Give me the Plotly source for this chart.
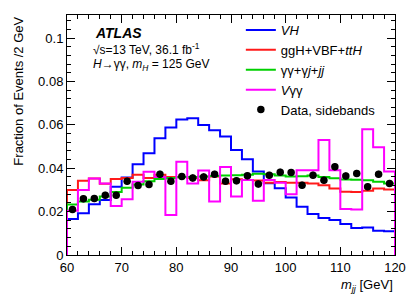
import plotly.graph_objects as go

# bin edges: 2 GeV bins from 60 to 120
edges = list(range(60, 121, 2))
centers = [e + 1 for e in edges[:-1]]

vh = [0.0166, 0.0192, 0.0234, 0.0253, 0.0314, 0.0357, 0.0418, 0.0469, 0.0538, 0.0587,
      0.0625, 0.0630, 0.0599, 0.0575, 0.0546, 0.0484, 0.0441, 0.0385, 0.0331, 0.0308,
      0.0265, 0.0222, 0.0189, 0.0170, 0.0161, 0.0143, 0.0124, 0.0127, 0.0112, 0.0109]
ggh = [0.0300, 0.0342, 0.0352, 0.0328, 0.0350, 0.0355, 0.0370, 0.0355, 0.0370, 0.0360,
       0.0360, 0.0355, 0.0345, 0.0362, 0.0330, 0.0349, 0.0346, 0.0343, 0.0333, 0.0336,
       0.0333, 0.0333, 0.0330, 0.0322, 0.0307, 0.0292, 0.0290, 0.0296, 0.0307, 0.0302]
gg_bkg = [0.0233, 0.0246, 0.0255, 0.0270, 0.0290, 0.0310, 0.0325, 0.0340, 0.0350, 0.0355,
          0.0360, 0.0360, 0.0362, 0.0364, 0.0366, 0.0368, 0.0370, 0.0374, 0.0372, 0.0366,
          0.0362, 0.0363, 0.0366, 0.0360, 0.0354, 0.0348, 0.0347, 0.0345, 0.0338, 0.0330]
vgg = [0.0204, 0.0300, 0.0353, 0.0330, 0.0226, 0.0257, 0.0338, 0.0384, 0.0360, 0.0184,
       0.0430, 0.0330, 0.0389, 0.0246, 0.0405, 0.0270, 0.0346, 0.0250, 0.0346, 0.0333,
       0.0280, 0.0390, 0.0390, 0.0530, 0.0390, 0.0212, 0.0210, 0.0580, 0.0497, 0.0385]
data = [0.0210, 0.0259, 0.0260, 0.0275, 0.0275, 0.0340, 0.0320, 0.0325, 0.0372, 0.0340,
        0.0362, 0.0355, 0.0360, 0.0372, 0.0340, 0.0342, 0.0365, 0.0327, 0.0367, 0.0381,
        0.0380, 0.0322, 0.0368, 0.0345, 0.0407, 0.0364, 0.0376, 0.0315, 0.0372, 0.0330]
data_err = [0.0016] * 30

y_ticks = [0, 0.02, 0.04, 0.06, 0.08, 0.1]
y_ticklabels = ["0", "0.02", "0.04", "0.06", "0.08", "0.1"]
x_ticks = [60, 70, 80, 90, 100, 110, 120]

FONT = "Liberation Sans, Arial, sans-serif"


def step_xy(vals):
    xs = [edges[0]] + edges[:-1] + [edges[-1], edges[-1]]
    ys = [0] + list(vals) + [vals[-1], 0]
    return xs, ys


fig = go.Figure()

series = [
    ("<i>VH</i>", vh, "#0000ff", 1),
    ("ggH+VBF+<i>ttH</i>", ggh, "#ff1a1a", 2),
    ("γγ+γ<i>j</i>+<i>jj</i>", gg_bkg, "#00d000", 3),
    ("<i>V</i>γγ", vgg, "#ff00ff", 4),
]
for name, vals, col, rank in series:
    xs, ys = step_xy(vals)
    fig.add_trace(go.Scatter(x=xs, y=ys, mode="lines", line=dict(color=col, width=2, shape="hv"),
                             name=name, legendrank=rank, hoverinfo="skip"))

fig.add_trace(go.Scatter(x=centers, y=data, mode="markers", name="Data, sidebands", legendrank=5,
                         marker=dict(color="black", size=7.5, symbol="circle"),
                         error_y=dict(type="data", array=data_err, color="black", thickness=1.5, width=0)))

axis_common = dict(showline=True, linecolor="black", linewidth=1, mirror="allticks",
                   ticks="inside", tickcolor="black", showgrid=False, zeroline=False,
                   tickfont=dict(family=FONT, size=13, color="black"))

fig.update_xaxes(range=[60, 120], tickvals=x_ticks, ticklen=8,
                 minor=dict(dtick=2, ticklen=4, ticks="inside", tickcolor="black", showgrid=False),
                 **axis_common)
fig.update_yaxes(range=[0, 0.1106], tickvals=y_ticks, ticktext=y_ticklabels, ticklen=8,
                 minor=dict(dtick=0.004, tick0=0, ticklen=4, ticks="inside", tickcolor="black", showgrid=False),
                 **axis_common)

annotations = [
    dict(text="<b><i>ATLAS</i></b>", x=0.08, y=0.927, xref="paper", yref="paper",
         xanchor="left", yanchor="middle", showarrow=False, font=dict(family=FONT, size=14, color="black")),
    dict(text="√s=13 TeV, 36.1 fb<sup>-1</sup>", x=0.072, y=0.858, xref="paper", yref="paper",
         xanchor="left", yanchor="middle", showarrow=False, font=dict(family=FONT, size=12, color="black")),
    dict(text="<i>H</i>→γγ, <i>m</i><sub><i>H</i></sub> = 125 GeV", x=0.072, y=0.79, xref="paper", yref="paper",
         xanchor="left", yanchor="middle", showarrow=False, font=dict(family=FONT, size=12, color="black")),
    dict(text="Fraction of Events /2 GeV", x=-0.149, y=1.0, xref="paper", yref="paper",
         xanchor="center", yanchor="top", textangle=-90, showarrow=False,
         font=dict(family=FONT, size=13, color="black")),
    dict(text="<i>m</i><sub><i>jj</i></sub> [GeV]", x=1.0, y=-0.125, xref="paper", yref="paper",
         xanchor="right", yanchor="middle", showarrow=False, font=dict(family=FONT, size=13, color="black")),
]

# page body has an 8px default margin, so the figure is made 8px smaller on each used side
fig.update_layout(
    width=407, height=295,
    margin=dict(l=59, r=20, t=7, b=48),
    paper_bgcolor="white", plot_bgcolor="white",
    font=dict(family=FONT, size=13, color="black"),
    annotations=annotations,
    showlegend=True,
    legend=dict(x=0.53, y=1.0, xanchor="left", yanchor="top", bgcolor="rgba(0,0,0,0)",
                font=dict(family=FONT, size=13, color="black"), itemwidth=30, tracegroupgap=0),
)

fig.write_html("out.html")
